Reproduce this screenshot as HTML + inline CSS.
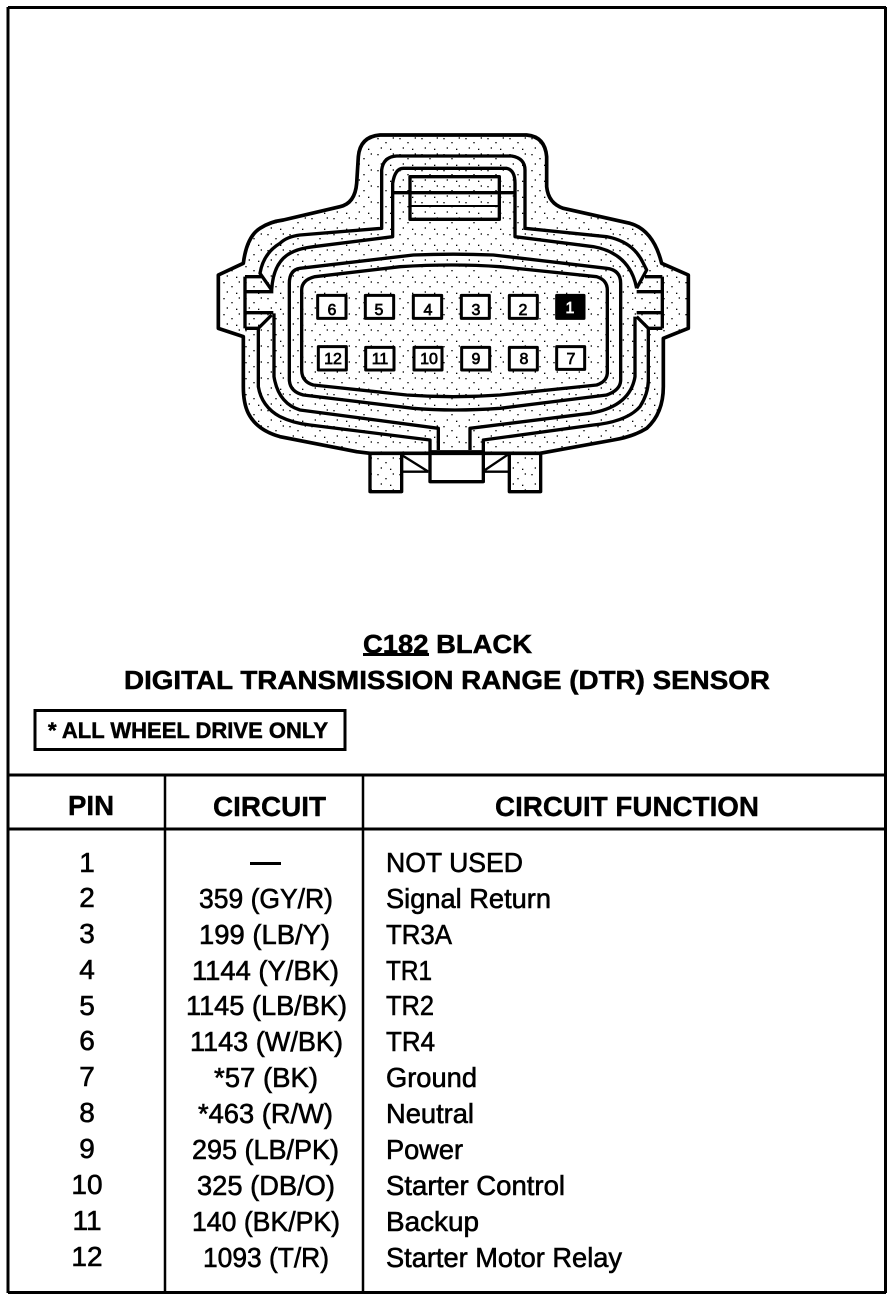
<!DOCTYPE html>
<html><head><meta charset="utf-8"><style>
html,body{margin:0;padding:0;background:#fff}
svg{display:block}
text{font-family:"Liberation Sans",sans-serif;fill:#000;stroke:#000;stroke-width:.6}
.r{font-size:28px}
.b{font-size:26px;font-weight:bold;stroke-width:.5}
.h{font-size:28px;font-weight:bold;stroke-width:.4}
</style></head><body>
<svg width="896" height="1302" viewBox="0 0 896 1302" xmlns="http://www.w3.org/2000/svg">
<defs><pattern id="d" width="66" height="48" patternUnits="userSpaceOnUse">
<rect x="4" y="6" width="4" height="4" fill="#000"/><rect x="28" y="18" width="4" height="4" fill="#000"/><rect x="50" y="4" width="4" height="4" fill="#000"/><rect x="14" y="34" width="4" height="4" fill="#000"/><rect x="42" y="38" width="4" height="4" fill="#000"/></pattern></defs>
<rect width="896" height="1302" fill="#fff"/>
<g fill="none" stroke="#000">
<path d="M8 7.5H886M885.5 7V1293M8 7V1293M8 1292.5H886" stroke-width="3"/>
<path d="M8 775H886M8 829H886" stroke-width="3"/>
<path d="M165 775V1292M363 775V1292" stroke-width="2.5"/>
<rect x="35" y="710.5" width="310" height="39" stroke-width="3"/>
</g>
<g transform="translate(200 120) scale(.33333)" stroke="#000" stroke-width="10" fill="none" stroke-linejoin="round">
<path fill="url(#d)" stroke-width="11" d="M510 1000L470 995L240 950Q170 930 145 880Q130 850 130 800L130 650L55 625L55 465L130 430Q140 350 180 325Q210 305 250 300L420 260Q465 250 470 190L475 110Q480 50 540 45L980 45Q1035 50 1040 110L1040 200Q1045 250 1090 265L1290 310Q1360 330 1385 430L1465 465L1465 625L1390 655L1390 800Q1390 880 1340 925Q1300 950 1240 960L1020 1000Z"/>
<path d="M215 510L180 460Q190 400 240 370Q260 350 300 345L545 325L545 150Q550 110 590 108L935 108Q975 115 975 150L975 325L1220 350Q1300 365 1330 430L1340 450L1310 505"/>
<path d="M215 585L175 625L175 800Q185 860 240 890Q280 910 330 915L690 960L690 1085L850 1085L850 960L1180 915Q1280 905 1320 860Q1345 820 1345 780L1345 625L1310 590"/>
<path d="M215 510Q220 420 280 395Q300 385 340 380L578 350L578 190Q585 145 610 145L920 145Q945 150 945 190L945 350L1180 380Q1290 400 1310 505"/>
<path d="M222 580L222 770Q235 850 300 870L715 925L715 990M810 990L810 925L1170 880Q1290 860 1305 770L1305 590"/>
<path d="M300 445L640 405Q760 400 880 405L1220 445Q1262 450 1262 490L1262 780Q1262 810 1220 825L900 865Q760 875 640 865L310 825Q270 815 268 780L268 490Q268 450 300 445Z"/>
<path d="M345 470L600 440Q760 430 900 440L1190 470Q1222 480 1222 510L1222 760Q1220 785 1190 795L900 825Q760 835 620 825L340 795Q305 785 305 750L305 510Q305 480 345 470Z"/>
<rect x="630" y="170" width="268" height="128"/>
<path d="M578 218H945"/><path d="M630 258H898" stroke-width="6"/>
<path d="M135 470V625M135 470H185M135 625H175M135 515H220M135 578H220"/>
<path d="M1387 470V625M1387 470H1335M1387 625H1345M1310 515H1387M1310 578H1387"/>
<path d="M690 995H850" stroke-width="9"/>
<rect x="510" y="1000" width="95" height="115" fill="url(#d)"/>
<rect x="928" y="1000" width="94" height="115" fill="url(#d)"/>
<path d="M605 1005L685 1055M605 1055H685M855 1050L925 1003M855 1055H925" stroke-width="7"/>
<g fill="#fff" stroke-width="9">
<rect x="353" y="526" width="85" height="69"/><rect x="496" y="526" width="85" height="69"/><rect x="640" y="526" width="85" height="69"/><rect x="784" y="526" width="84" height="69"/><rect x="928" y="526" width="84" height="69"/><rect x="1070" y="526" width="82" height="69" fill="#000"/>
<rect x="355" y="680" width="84" height="70"/><rect x="497" y="682" width="85" height="68"/><rect x="642" y="682" width="84" height="68"/><rect x="785" y="682" width="84" height="68"/><rect x="928" y="682" width="84" height="68"/><rect x="1070" y="680" width="84" height="68"/>
</g>
</g>
<g text-anchor="middle" style="font-size:16px">
<text x="332" y="315" style="font-size:16px;stroke-width:.7">6</text><text x="379" y="315" style="font-size:16px;stroke-width:.7">5</text><text x="428" y="315" style="font-size:16px;stroke-width:.7">4</text><text x="476" y="315" style="font-size:16px;stroke-width:.7">3</text><text x="523" y="315" style="font-size:16px;stroke-width:.7">2</text><text x="570" y="313" style="font-size:16px;fill:#fff;stroke:#fff;stroke-width:.7">1</text>
<text x="333" y="364" style="font-size:16px;stroke-width:.7">12</text><text x="380" y="364" style="font-size:16px;stroke-width:.7">11</text><text x="429" y="364" style="font-size:16px;stroke-width:.7">10</text><text x="476" y="364" style="font-size:16px;stroke-width:.7">9</text><text x="524" y="364" style="font-size:16px;stroke-width:.7">8</text><text x="571" y="364" style="font-size:16px;stroke-width:.7">7</text>
</g>
<text class="b" x="363" y="653" textLength="169" lengthAdjust="spacingAndGlyphs">C182 BLACK</text>
<rect x="363" y="653" width="66" height="3" fill="#000"/>
<text class="b" x="124" y="689" textLength="646" lengthAdjust="spacingAndGlyphs">DIGITAL TRANSMISSION RANGE (DTR) SENSOR</text>
<text class="b" x="48" y="738" textLength="280" lengthAdjust="spacingAndGlyphs" style="font-size:22px">* ALL WHEEL DRIVE ONLY</text>
<text class="h" x="68" y="815" textLength="46" lengthAdjust="spacingAndGlyphs">PIN</text>
<text class="h" x="213" y="816" textLength="113" lengthAdjust="spacingAndGlyphs">CIRCUIT</text>
<text class="h" x="495" y="816" textLength="264" lengthAdjust="spacingAndGlyphs">CIRCUIT FUNCTION</text>
<g text-anchor="middle">
<text class="r" x="87" y="872">1</text><text class="r" x="87" y="907">2</text><text class="r" x="87" y="943">3</text><text class="r" x="87" y="979">4</text><text class="r" x="87" y="1015">5</text><text class="r" x="87" y="1050">6</text><text class="r" x="87" y="1086">7</text><text class="r" x="87" y="1122">8</text><text class="r" x="87" y="1158">9</text><text class="r" x="87" y="1194">10</text><text class="r" x="87" y="1230">11</text><text class="r" x="87" y="1266">12</text>
</g>
<rect x="250" y="862" width="31" height="3" fill="#000"/>
<text class="r" x="199" y="908" textLength="134" lengthAdjust="spacingAndGlyphs">359 (GY/R)</text>
<text class="r" x="199" y="944" textLength="131" lengthAdjust="spacingAndGlyphs">199 (LB/Y)</text>
<text class="r" x="192" y="980" textLength="147" lengthAdjust="spacingAndGlyphs">1144 (Y/BK)</text>
<text class="r" x="186" y="1015" textLength="161" lengthAdjust="spacingAndGlyphs">1145 (LB/BK)</text>
<text class="r" x="190" y="1051" textLength="153" lengthAdjust="spacingAndGlyphs">1143 (W/BK)</text>
<text class="r" x="214" y="1087" textLength="104" lengthAdjust="spacingAndGlyphs">*57 (BK)</text>
<text class="r" x="198" y="1123" textLength="135" lengthAdjust="spacingAndGlyphs">*463 (R/W)</text>
<text class="r" x="192" y="1159" textLength="147" lengthAdjust="spacingAndGlyphs">295 (LB/PK)</text>
<text class="r" x="197" y="1195" textLength="138" lengthAdjust="spacingAndGlyphs">325 (DB/O)</text>
<text class="r" x="192" y="1231" textLength="148" lengthAdjust="spacingAndGlyphs">140 (BK/PK)</text>
<text class="r" x="203" y="1267" textLength="126" lengthAdjust="spacingAndGlyphs">1093 (T/R)</text>
<text class="r" x="386" y="872" textLength="137" lengthAdjust="spacingAndGlyphs">NOT USED</text>
<text class="r" x="386" y="908" textLength="165" lengthAdjust="spacingAndGlyphs">Signal Return</text>
<text class="r" x="386" y="944" textLength="66" lengthAdjust="spacingAndGlyphs">TR3A</text>
<text class="r" x="386" y="980" textLength="46" lengthAdjust="spacingAndGlyphs">TR1</text>
<text class="r" x="386" y="1015" textLength="48" lengthAdjust="spacingAndGlyphs">TR2</text>
<text class="r" x="386" y="1051" textLength="49" lengthAdjust="spacingAndGlyphs">TR4</text>
<text class="r" x="386" y="1087" textLength="91" lengthAdjust="spacingAndGlyphs">Ground</text>
<text class="r" x="386" y="1123" textLength="88" lengthAdjust="spacingAndGlyphs">Neutral</text>
<text class="r" x="386" y="1159" textLength="77" lengthAdjust="spacingAndGlyphs">Power</text>
<text class="r" x="386" y="1195" textLength="179" lengthAdjust="spacingAndGlyphs">Starter Control</text>
<text class="r" x="386" y="1231" textLength="93" lengthAdjust="spacingAndGlyphs">Backup</text>
<text class="r" x="386" y="1267" textLength="236" lengthAdjust="spacingAndGlyphs">Starter Motor Relay</text>
</svg>
</body></html>
